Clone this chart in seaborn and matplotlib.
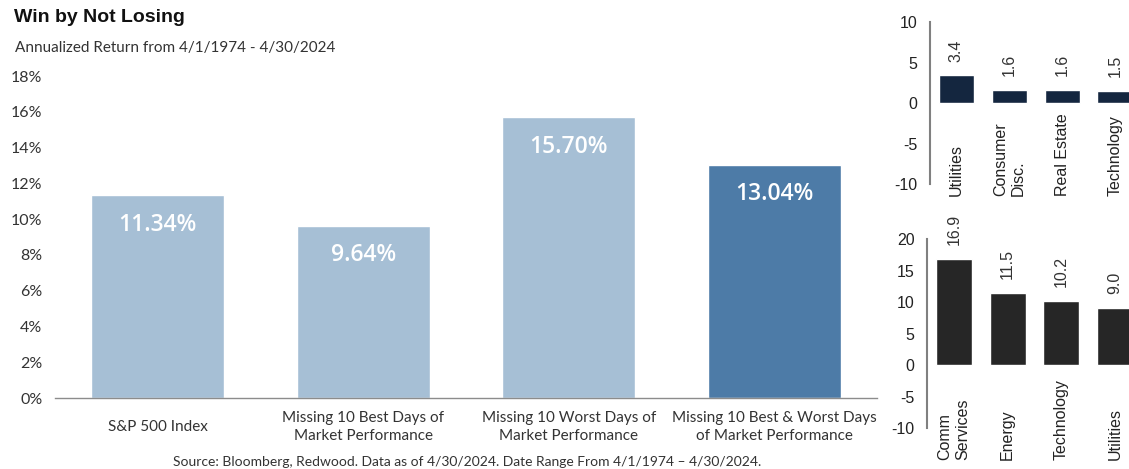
import matplotlib
matplotlib.use("Agg")
import matplotlib.pyplot as plt
import seaborn as sns
import pandas as pd

# ---- data ----
main_categories = ["S&P 500 Index",
                   "Missing 10 Best Days of\nMarket Performance",
                   "Missing 10 Worst Days of\nMarket Performance",
                   "Missing 10 Best & Worst Days\nof Market Performance"]
main_values = [11.34, 9.64, 15.70, 13.04]
main_yticks = [0, 2, 4, 6, 8, 10, 12, 14, 16, 18]

top_categories = ["Utilities", "Consumer\nDisc.", "Real Estate", "Technology"]
top_values = [3.4, 1.6, 1.6, 1.5]
top_yticks = [-10, -5, 0, 5, 10]

bot_categories = ["Comm\nServices", "Energy", "Technology", "Utilities"]
bot_values = [16.9, 11.5, 10.2, 9.0]
bot_yticks = [-10, -5, 0, 5, 10, 15, 20]

title = "Win by Not Losing"
subtitle = "Annualized Return from 4/1/1974 - 4/30/2024"
source = "Source: Bloomberg, Redwood. Data as of 4/30/2024. Date Range From 4/1/1974 \u2013 4/30/2024."

sns.set_theme(style="white")
NARROW = ["Lato", "DejaVu Sans"]
ARIAL = ["Liberation Sans", "DejaVu Sans"]
plt.rcParams["font.family"] = NARROW
plt.rcParams["axes.axisbelow"] = False

W, H = 1129, 469
fig = plt.figure(figsize=(W / 100, H / 100), dpi=100)

def px_axes(left, top, right, bottom):
    return fig.add_axes([left / W, 1 - bottom / H, (right - left) / W, (bottom - top) / H])

# ---- main chart ----
ax = px_axes(55, 76, 877, 398)
df_main = pd.DataFrame({"cat": main_categories, "val": main_values})
light, dark = "#a6bfd5", "#4d7ba7"
sns.barplot(data=df_main, x="cat", y="val", hue="cat",
            palette=[light, light, light, dark], legend=False,
            width=0.645, saturation=1, ax=ax)
ax.set_xlim(-0.5, 3.5)
ax.set_ylim(0, 18)
ax.set_yticks(main_yticks)
ax.set_yticklabels([f"{t}%" for t in main_yticks], fontsize=11.5, color="#333333")
ax.tick_params(axis="y", length=0, pad=9)
ax.tick_params(axis="x", length=0, pad=21)
for lab in ax.get_xticklabels():
    lab.set_fontsize(11)
    lab.set_color("#333333")
    lab.set_va("center")
    lab.set_multialignment("center")
    lab.set_linespacing(1.4)
ax.set_xlabel("")
ax.set_ylabel("")
for s in ["top", "right", "left"]:
    ax.spines[s].set_visible(False)
ax.spines["bottom"].set_color("#8c8c8c")
ax.spines["bottom"].set_linewidth(1.0)
for cont in ax.containers:
    ax.bar_label(cont, labels=[f"{v:.2f}%" for v in cont.datavalues],
                 padding=-30, color="white", fontsize=16.5, fontweight="semibold",
                 family=["Open Sans", "DejaVu Sans"])

fig.text(14 / W, 1 - 18 / H, title, fontsize=14, fontweight="bold",
         family=ARIAL, va="center", ha="left", color="#111111")
fig.text(15 / W, 1 - 48 / H, subtitle, fontsize=11, va="center", ha="left",
         color="#333333")
fig.text(467 / W, 1 - 462 / H, source, fontsize=10, va="center", ha="center",
         color="#333333")

# ---- small charts ----
def small(axs, cats, vals, yticks, color, ylim, label_pad):
    d = pd.DataFrame({"cat": cats, "val": vals})
    sns.barplot(data=d, x="cat", y="val", color=color, saturation=1,
                width=0.67, ax=axs)
    axs.set_ylim(*ylim)
    axs.set_xlim(-0.5, 3.3)
    axs.set_yticks(yticks)
    axs.set_yticklabels([str(t) for t in yticks], fontsize=11.5, family=ARIAL,
                        color="#222222")
    axs.tick_params(axis="y", length=0, pad=9)
    axs.tick_params(axis="x", length=0, pad=label_pad)
    for lab in axs.get_xticklabels():
        lab.set_rotation(90)
        lab.set_va("bottom")
        lab.set_ha("center")
        lab.set_multialignment("left")
        lab.set_fontsize(11.5)
        lab.set_family(ARIAL)
        lab.set_color("#222222")
    axs.set_xlabel("")
    axs.set_ylabel("")
    for s in ["top", "right", "bottom"]:
        axs.spines[s].set_visible(False)
    axs.spines["left"].set_color("#808080")
    axs.spines["left"].set_linewidth(1.5)
    for cont in axs.containers:
        axs.bar_label(cont, labels=[f"{v:.1f}" for v in cont.datavalues],
                      padding=10, rotation=90, fontsize=11.5, family=ARIAL,
                      color="#333333")
    axs.patch.set_alpha(0)

ax_top = px_axes(930, 22, 1131, 184)
small(ax_top, top_categories, top_values, top_yticks, "#14263f", (-10, 10), 9)

ax_bot = px_axes(927, 239, 1131, 428)
small(ax_bot, bot_categories, bot_values, bot_yticks, "#262626", (-10, 20), 23)

fig.savefig("out.png", dpi=100)
